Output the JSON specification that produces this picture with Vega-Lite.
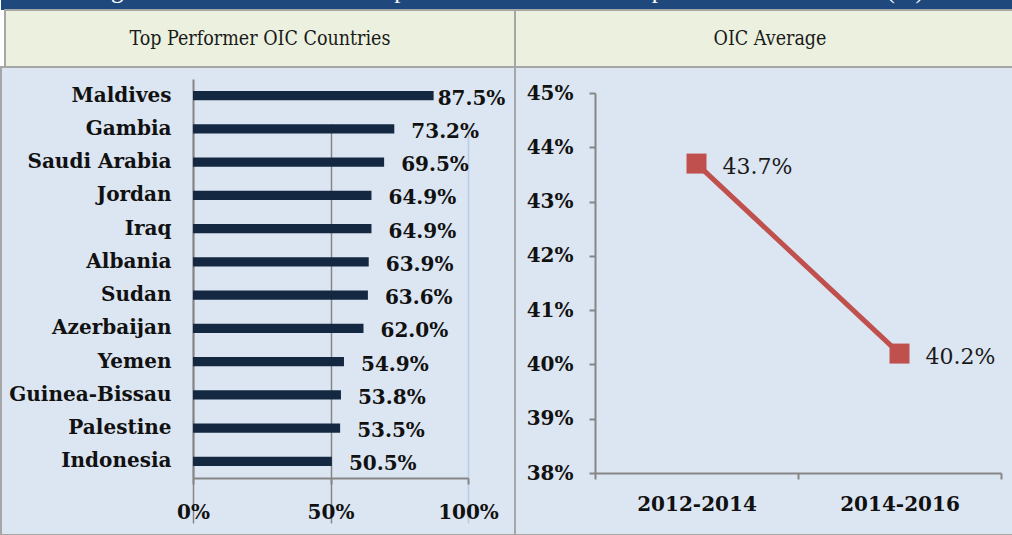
{
  "$schema": "https://vega.github.io/schema/vega-lite/v6.json",
  "padding": 0,
  "background": "white",
  "spacing": 0,
  "bounds": "flush",
  "config": {"view": {"stroke": null}, "concat": {"spacing": 0}, "font": "DejaVu Serif"},
  "vconcat": [
    {
      "width": 1012,
      "height": 10,
      "view": {"fill": "#1f497d", "stroke": null},
      "data": {"values": [{"title": "Figure 6.4: Share of Travel Exports in Total Services Exports in OIC Countries (%)"}]},
      "mark": {"type": "text", "clip": true, "color": "white", "font": "Liberation Serif", "fontSize": 25, "baseline": "alphabetic", "dy": -7},
      "encoding": {"text": {"field": "title"}}
    },
    {
      "width": 1012,
      "height": 57,
      "data": {"values": [{"cell": "Top Performer OIC Countries"}, {"cell": "OIC Average"}]},
      "encoding": {
        "x": {"field": "cell", "type": "nominal", "sort": null, "scale": {"type": "band", "range": [4, 1024], "paddingInner": 0, "paddingOuter": 0}, "axis": null}
      },
      "layer": [
        {"mark": {"type": "rect", "fill": "#ebf1de", "stroke": "#a6a6a6", "strokeWidth": 2}},
        {"mark": {"type": "text", "font": "DejaVu Serif Condensed", "fontSize": 19.5, "color": "#1a1a1a"}, "encoding": {"text": {"field": "cell"}}}
      ]
    },
    {
      "hconcat": [
        {
          "width": 514,
          "height": 468,
          "view": {"fill": "#dce6f2", "stroke": "#a6a6a6", "strokeWidth": 2},
          "data": {"values": [
            {"country": "Maldives", "share": 0.875},
            {"country": "Gambia", "share": 0.732},
            {"country": "Saudi Arabia", "share": 0.695},
            {"country": "Jordan", "share": 0.649},
            {"country": "Iraq", "share": 0.649},
            {"country": "Albania", "share": 0.639},
            {"country": "Sudan", "share": 0.636},
            {"country": "Azerbaijan", "share": 0.620},
            {"country": "Yemen", "share": 0.549},
            {"country": "Guinea-Bissau", "share": 0.538},
            {"country": "Palestine", "share": 0.535},
            {"country": "Indonesia", "share": 0.505}
          ]},
          "encoding": {
            "y": {
              "field": "country", "type": "nominal", "sort": null,
              "scale": {"range": [12, 411], "paddingInner": 0.72, "paddingOuter": 0.36},
              "axis": {"title": null, "offset": -192, "domainColor": "#868686", "domainWidth": 2, "tickSize": 0, "labelFont": "DejaVu Serif", "labelFontWeight": "bold", "labelFontSize": 20, "labelColor": "#111111", "labelPadding": 22, "grid": false}
            },
            "x": {
              "field": "share", "type": "quantitative",
              "scale": {"domain": [0, 1], "range": [192, 467]},
              "axis": {"title": null, "offset": -57, "values": [0, 0.5, 1], "format": ".0%", "labelFlush": false, "labelOverlap": false, "domainColor": "#868686", "domainWidth": 2, "tickColor": "#868686", "tickSize": 6, "tickWidth": 2, "labelFont": "DejaVu Serif", "labelFontWeight": "bold", "labelFontSize": 20, "labelColor": "#111111", "labelPadding": 18, "grid": true, "gridWidth": 1.5, "gridColor": {"condition": {"test": "datum.value === 1", "value": "#b8cce4"}, "value": "#868686"}}
            }
          },
          "layer": [
            {"mark": {"type": "bar", "color": "#142842"}},
            {
              "transform": [{"filter": "datum.share < 0.8"}],
              "mark": {"type": "text", "align": "left", "dx": 17, "dy": 3, "font": "DejaVu Serif", "fontWeight": "bold", "fontSize": 20, "color": "#111111"},
              "encoding": {"text": {"field": "share", "format": ".1%"}}
            },
            {
              "transform": [{"filter": "datum.share >= 0.8"}],
              "mark": {"type": "text", "align": "left", "dx": 4, "dy": 3, "font": "DejaVu Serif", "fontWeight": "bold", "fontSize": 20, "color": "#111111"},
              "encoding": {"text": {"field": "share", "format": ".1%"}}
            }
          ]
        },
        {
          "width": 498,
          "height": 468,
          "view": {"fill": "#dce6f2", "stroke": "#a6a6a6", "strokeWidth": 2},
          "data": {"values": [
            {"period": "2012-2014", "avg": 0.437},
            {"period": "2014-2016", "avg": 0.402}
          ]},
          "encoding": {
            "x": {
              "field": "period", "type": "nominal", "sort": null,
              "scale": {"type": "band", "range": [80, 486], "paddingInner": 0, "paddingOuter": 0},
              "axis": {"title": null, "offset": -62, "labelAngle": 0, "tickBand": "extent", "domainColor": "#868686", "domainWidth": 2, "tickColor": "#868686", "tickSize": 6, "tickWidth": 2, "labelFont": "DejaVu Serif", "labelFontWeight": "bold", "labelFontSize": 20, "labelColor": "#111111", "labelPadding": 15, "grid": false}
            },
            "y": {
              "field": "avg", "type": "quantitative",
              "scale": {"domain": [0.38, 0.45], "range": [406, 26], "zero": false},
              "axis": {"title": null, "offset": -80, "values": [0.38, 0.39, 0.40, 0.41, 0.42, 0.43, 0.44, 0.45], "format": ".0%", "labelFlush": false, "domainColor": "#868686", "domainWidth": 2, "tickColor": "#868686", "tickSize": 6, "tickWidth": 2, "labelFont": "DejaVu Serif", "labelFontWeight": "bold", "labelFontSize": 20, "labelColor": "#111111", "labelPadding": 16, "grid": false}
            }
          },
          "layer": [
            {"mark": {"type": "line", "color": "#c0504d", "strokeWidth": 5}},
            {"mark": {"type": "point", "shape": "square", "size": 400, "filled": true, "opacity": 1, "color": "#c0504d"}},
            {
              "mark": {"type": "text", "align": "left", "dx": 26, "dy": 3, "font": "DejaVu Serif", "fontSize": 22, "color": "#1a1a1a"},
              "encoding": {"text": {"field": "avg", "format": ".1%"}}
            }
          ]
        }
      ],
      "spacing": 0,
      "bounds": "flush"
    }
  ]
}
